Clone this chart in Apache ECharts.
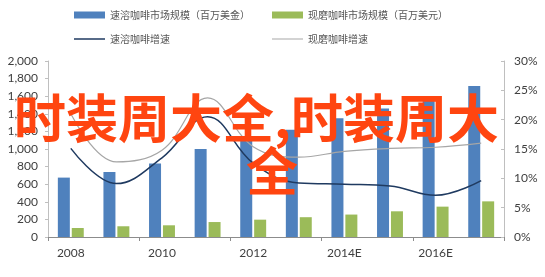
<!DOCTYPE html>
<html>
<head>
<meta charset="utf-8">
<script src="https://cdn.jsdelivr.net/npm/echarts@6/dist/echarts.min.js"></script>
<style>
html,body{margin:0;padding:0;background:#fff;}
#c{width:545px;height:277px;}
</style>
</head>
<body>
<div id="c"></div>
<script>
const categories = ['2008','2009','2010','2011','2012','2013E','2014E','2015E','2016E','2017E'];
const instantSize = [675, 740, 835, 1000, 1110, 1220, 1350, 1460, 1590, 1715];
const groundSize = [102, 122, 133, 170, 197, 225, 255, 292, 345, 405];
const instantGrowth = [15.1, 9.1, 13.5, 20.5, 12.6, 9.2, 9.0, 8.7, 7.1, 9.6];
const groundGrowth = [21.0, 12.8, 14.8, 23.7, 15.4, 13.6, 14.6, 15.1, 15.3, 16.0];
const seriesNames = ['速溶咖啡市场规模（百万美金）','现磨咖啡市场规模（百万美元）','速溶咖啡增速','现磨咖啡增速'];
const watermarkLine1 = '时装周大全,时装周大';
const watermarkLine2 = '全';

const chart = echarts.init(document.getElementById('c'), null, {renderer:'canvas'});
const labelFont = {fontFamily:'Lato', fontSize:12, color:'#404040'};
const legendText = {fontFamily:'"Noto Sans CJK SC"', fontSize:10, color:'#555'};
const legendBase = {itemWidth:31, itemGap:10, textStyle:legendText, padding:0, selectedMode:false};
chart.setOption({
  animation:false,
  color:['#4f81bd','#9bbb59','#1f3a60','#a6a6a6'],
  legend:[
    Object.assign({data:[seriesNames[0]], left:74, top:10, icon:'rect', itemHeight:7}, legendBase),
    Object.assign({data:[seriesNames[1]], left:272, top:10, icon:'rect', itemHeight:7}, legendBase),
    Object.assign({data:[seriesNames[2]], left:74, top:34, icon:'rect', itemHeight:1.5}, legendBase),
    Object.assign({data:[seriesNames[3]], left:272, top:34, icon:'rect', itemHeight:1}, legendBase)
  ],
  grid:{left:48, right:41, top:61, bottom:40},
  xAxis:{
    type:'category', data:categories,
    axisLine:{lineStyle:{color:'#8c8c8c', width:1}},
    axisTick:{show:true, interval:1, length:4, lineStyle:{color:'#8c8c8c'}},
    axisLabel:Object.assign({interval:1, margin:10}, labelFont)
  },
  yAxis:[
    {type:'value', min:0, max:2000, interval:200,
     axisLine:{show:true, lineStyle:{color:'#bfbfbf'}},
     axisTick:{show:true, length:3, lineStyle:{color:'#bfbfbf'}},
     splitLine:{show:false},
     axisLabel:Object.assign({margin:10, formatter:v=>v.toLocaleString('en-US')}, labelFont)},
    {type:'value', min:0, max:30, interval:5,
     axisLine:{show:true, lineStyle:{color:'#bfbfbf'}},
     axisTick:{show:true, length:3, inside:true, lineStyle:{color:'#bfbfbf'}},
     splitLine:{show:false},
     axisLabel:Object.assign({margin:10, formatter:'{value}%'}, labelFont)}
  ],
  series:[
    {name:seriesNames[0], type:'bar', data:instantSize, barWidth:12, barGap:'16%', itemStyle:{color:'#4f81bd'}},
    {name:seriesNames[1], type:'bar', data:groundSize, barWidth:12, barGap:'16%', itemStyle:{color:'#9bbb59'}},
    {name:seriesNames[2], type:'line', yAxisIndex:1, data:instantGrowth, smooth:0.4, symbol:'none', lineStyle:{color:'#1f3a60', width:1.5}, itemStyle:{color:'#1f3a60'}},
    {name:seriesNames[3], type:'line', yAxisIndex:1, data:groundGrowth, smooth:0.4, symbol:'none', lineStyle:{color:'#a6a6a6', width:1.2}, itemStyle:{color:'#a6a6a6'}}
  ],
  graphic:[
    {type:'text', x:14, y:118, z:100, style:{text:watermarkLine1, font:'bold 52px "Noto Sans CJK SC"', fill:'#ff4510', textAlign:'left', textVerticalAlign:'middle', align:'left', verticalAlign:'middle'}},
    {type:'text', x:272, y:171, z:100, style:{text:watermarkLine2, font:'bold 52px "Noto Sans CJK SC"', fill:'#ff4510', textAlign:'center', textVerticalAlign:'middle', align:'center', verticalAlign:'middle'}}
  ]
});
</script>
</body>
</html>
